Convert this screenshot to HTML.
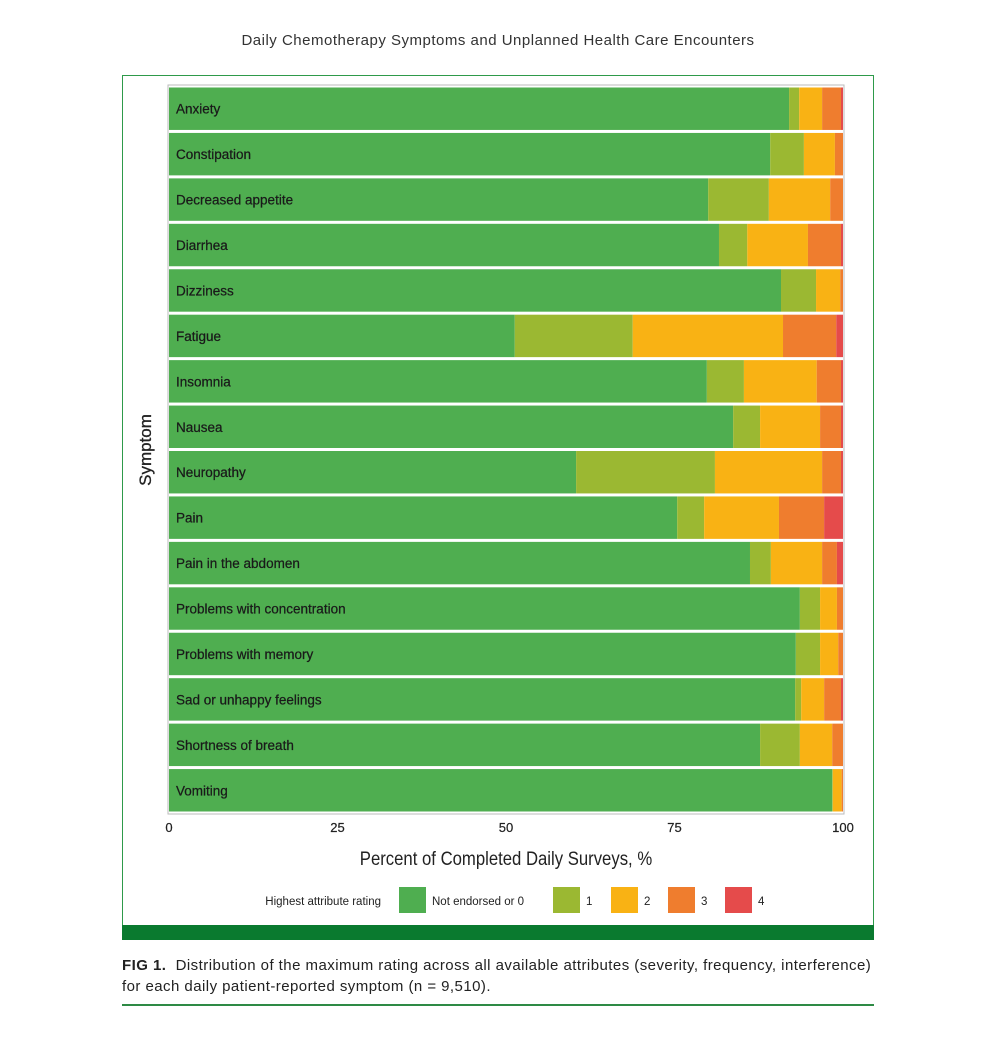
<!DOCTYPE html>
<html><head><meta charset="utf-8"><style>
body{margin:0;background:#fff;font-family:"Liberation Sans",sans-serif;}
#wrap{position:relative;width:1006px;height:1055px;overflow:hidden}
.t{position:absolute;white-space:nowrap}
</style></head><body><div id="wrap">
<div class="t" style="left:0;width:996px;text-align:center;top:32px;font-size:15px;color:#333;letter-spacing:0.5px">Daily Chemotherapy Symptoms and Unplanned Health Care Encounters</div>
<div style="position:absolute;left:122px;top:75px;width:750px;height:864px;border:1px solid #2e9a4a;border-bottom:none"></div>
<div style="position:absolute;left:122px;top:925px;width:752px;height:15px;background:#0a7a2f"></div>
<svg id="chart" width="1006" height="945" style="position:absolute;left:0;top:0"></svg>
<div class="t" style="left:122px;top:955px;font-size:15px;line-height:21px;color:#222;letter-spacing:0.45px"><b>FIG 1.</b>&nbsp; Distribution of the maximum rating across all available attributes (severity, frequency, interference)<br>for each daily patient-reported symptom (n = 9,510).</div>
<div style="position:absolute;left:122px;top:1004px;width:752px;height:2px;background:#2e8a45"></div>
</div>
<script>
const categories=["Anxiety","Constipation","Decreased appetite","Diarrhea","Dizziness","Fatigue","Insomnia","Nausea","Neuropathy","Pain","Pain in the abdomen","Problems with concentration","Problems with memory","Sad or unhappy feelings","Shortness of breath","Vomiting"];
const r0=[92.0,89.2,80.0,81.6,90.8,51.3,79.8,83.7,60.4,75.4,86.2,93.6,93.0,92.9,87.7,98.4];
const r1=[1.5,5.0,9.0,4.2,5.2,17.5,5.5,4.0,20.6,4.0,3.1,3.0,3.6,0.9,5.9,0.1];
const r2=[3.4,4.6,9.1,9.0,3.6,22.3,10.8,8.9,15.9,11.1,7.6,2.5,2.7,3.4,4.8,1.3];
const r3=[2.8,1.2,1.9,4.9,0.4,7.9,3.6,3.1,2.8,6.7,2.2,0.9,0.7,2.5,1.6,0.2];
const r4=[0.3,0,0,0.3,0,1.0,0.3,0.3,0.3,2.8,0.9,0,0,0.3,0,0];
const seriesNames=["Not endorsed or 0","1","2","3","4"];
const xTicks=[0,25,50,75,100];
const colors=["#4fae50","#9bb832","#f9b214","#ef7d2e","#e54b4b"];
const NS="http://www.w3.org/2000/svg";
const svg=document.getElementById('chart');
const X0=169,X1=843,Y0=86,Y1=813;
const x=v=>X0+(v/100)*(X1-X0);
const pitch=(Y1-Y0)/categories.length;
const y=i=>Y0+i*pitch;
function mk(t,a){const e=document.createElementNS(NS,t);for(const k in a)e.setAttribute(k,a[k]);svg.appendChild(e);return e;}
const bg=mk('rect',{x:X0-1,y:Y0-1,width:X1-X0+2,height:Y1-Y0+2,fill:'#fff',stroke:'#bbb'});


const series=[r0,r1,r2,r3,r4];
categories.forEach((c,i)=>{
  let acc=0;
  series.forEach((s,k)=>{
    const v=s[i];
    const r=mk('rect',{x:x(acc),y:y(i)+1.5,width:Math.max(0,x(acc+v)-x(acc)),height:pitch-3,fill:colors[k]});
    
    
    acc+=v;
  });
  const t=mk('text',{x:X0+7,y:y(i)+pitch/2+5,'font-size':13.5,fill:'#1a1a1a',stroke:'#1a1a1a','stroke-width':0.25});
  t.textContent=c;
  
  
});
xTicks.forEach(v=>{
  const t=mk('text',{x:x(v),y:832,'font-size':13,fill:'#222',stroke:'#222','stroke-width':0.2,'text-anchor':'middle'});
  t.textContent=v;
  
  
});
const xt=mk('text',{x:506,y:865,'font-size':19,fill:'#222','text-anchor':'middle',transform:'translate(506,0) scale(0.88,1) translate(-506,0)'});
xt.textContent='Percent of Completed Daily Surveys, %';


const yt=mk('text',{x:0,y:0,'font-size':17,fill:'#222',stroke:'#222','stroke-width':0.3,'text-anchor':'middle',transform:'translate(151,450) rotate(-90)'});
yt.textContent='Symptom';


const lt=mk('text',{x:381,y:905,'font-size':11.5,fill:'#222','text-anchor':'end'});
lt.textContent='Highest attribute rating';


const lx=[399,553,611,668,725];
seriesNames.forEach((n,k)=>{
  const r=mk('rect',{x:lx[k],y:887,width:27,height:26,fill:colors[k]});
  
  
  const t=mk('text',{x:lx[k]+33,y:905,'font-size':11.5,fill:'#222'});
  t.textContent=n;
  
  
});
</script>
</body></html>
